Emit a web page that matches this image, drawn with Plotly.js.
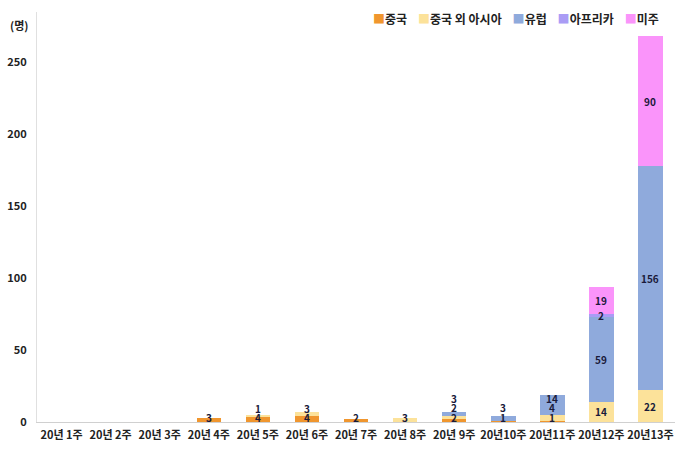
<!DOCTYPE html>
<html>
<head>
<meta charset="utf-8">
<script src="https://cdn.plot.ly/plotly-3.0.1.min.js"></script>
<style>
  body { margin: 0; background: #fff; }
  #grafico { width: 680px; height: 456px; }
</style>
</head>
<body>
<div id="grafico"></div>
<script>
// semanas y valores por region
var semanas = ['20년 1주', '20년 2주', '20년 3주', '20년 4주', '20년 5주', '20년 6주', '20년 7주',
               '20년 8주', '20년 9주', '20년10주', '20년11주', '20년12주', '20년13주'];
var china    = [0, 0, 0, 3, 4, 4, 2, 0, 2, 1, 1, 0, 0];
var asiaEtc  = [0, 0, 0, 0, 1, 3, 0, 3, 2, 0, 4, 14, 22];
var europa   = [0, 0, 0, 0, 0, 0, 0, 0, 3, 3, 14, 59, 156];
var africa   = [0, 0, 0, 0, 0, 0, 0, 0, 0, 0, 0, 2, 0];
var america  = [0, 0, 0, 0, 0, 0, 0, 0, 0, 0, 0, 19, 90];

var nombres = ['중국', '중국 외 아시아', '유럽', '아프리카', '미주'];
var colores = ['#F0962E', '#FCE29A', '#8FAADC', '#AA9CF5', '#FA94FA'];
var series = [china, asiaEtc, europa, africa, america];

var fuente = 'Noto Sans CJK KR, sans-serif';
var ymax = 285;
var altoPlot = 456 - 12 - 34;

var data = series.map(function (vals, i) {
  return {
    type: 'bar',
    name: nombres[i],
    x: semanas,
    y: vals.map(function (v) { return v ? v : null; }),
    marker: { color: colores[i] },
    hoverinfo: 'x+y+name',
    showlegend: false
  };
});

// etiquetas de valor: al centro de cada tramo, empujadas hacia arriba si se pisan
var etiquetas = [];
var pxPorUnidad = altoPlot / ymax;
var sep = 10;
semanas.forEach(function (sem, j) {
  var base = 0;
  var ultimoPx = 4 - sep; // la primera no baja de 4px sobre el eje
  series.forEach(function (vals) {
    var v = vals[j];
    if (!v) return;
    var centro = base + v / 2;
    var px = centro * pxPorUnidad;
    var shift = 0;
    if (px < ultimoPx + sep) { shift = ultimoPx + sep - px; px = ultimoPx + sep; }
    ultimoPx = px;
    etiquetas.push({
      x: sem, y: centro, yshift: shift,
      text: String(v), showarrow: false,
      font: { family: fuente, size: 10, color: '#1a1a3a', weight: 'bold' }
    });
    base += v;
  });
});

// leyenda hecha a mano para que quede compacta como el original
var leyenda = nombres.map(function (n, i) {
  return '<span style="color:' + colores[i] + '">■</span>' + n;
}).join('&nbsp;&nbsp;&nbsp;&nbsp;');

etiquetas.push({
  text: leyenda,
  xref: 'paper', yref: 'paper',
  x: 1, xanchor: 'right', xshift: -14,
  y: 1, yanchor: 'middle', yshift: -6,
  showarrow: false,
  font: { family: fuente, size: 12, color: '#222', weight: 'bold' }
});

etiquetas.push({
  text: '(명)',
  xref: 'paper', yref: 'paper',
  x: 0, xanchor: 'right', xshift: -7,
  y: 1, yanchor: 'middle', yshift: -13,
  showarrow: false,
  font: { family: fuente, size: 11, color: '#222', weight: 'bold' }
});

var layout = {
  width: 680,
  height: 456,
  barmode: 'stack',
  bargap: 0.5,
  margin: { l: 37, r: 5, t: 12, b: 34 },
  paper_bgcolor: '#fff',
  plot_bgcolor: '#fff',
  font: { family: fuente, size: 11, color: '#222' },
  showlegend: false,
  xaxis: {
    showline: true,
    linecolor: '#d0d0d0',
    linewidth: 1,
    ticks: '',
    ticklabelstandoff: 3,
    tickfont: { family: fuente, size: 11, color: '#222', weight: 'bold' },
    tickangle: 0,
    fixedrange: true
  },
  yaxis: {
    range: [0, ymax],
    tickvals: [0, 50, 100, 150, 200, 250],
    showgrid: false,
    zeroline: false,
    showline: true,
    linecolor: '#e0e0e0',
    linewidth: 1,
    ticks: '',
    ticklabelstandoff: 7,
    tickfont: { family: fuente, size: 11, color: '#222', weight: 'bold' },
    fixedrange: true
  },
  annotations: etiquetas
};

Plotly.newPlot('grafico', data, layout, { displayModeBar: false });
</script>
</body>
</html>
